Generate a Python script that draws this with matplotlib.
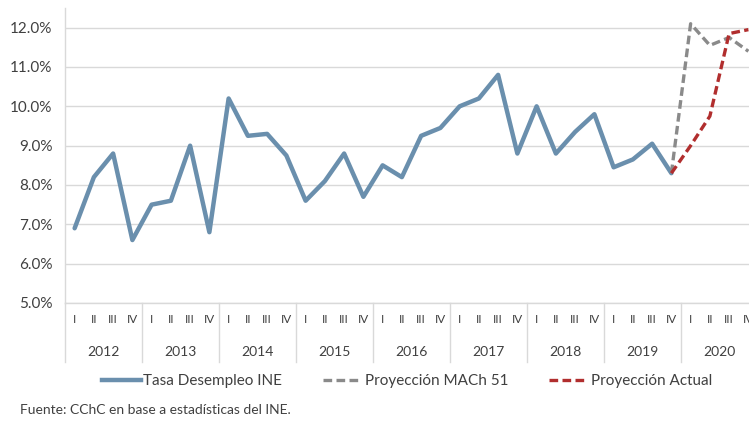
import matplotlib
matplotlib.use("Agg")
import matplotlib.pyplot as plt
from matplotlib.lines import Line2D
import matplotlib.transforms as mtransforms
import numpy as np

# ---- data ----
years = ["2012", "2013", "2014", "2015", "2016", "2017", "2018", "2019", "2020"]
quarters = ["I", "II", "III", "IV"]
tasa_ine = [6.9, 8.2, 8.8, 6.6,
            7.5, 7.6, 9.0, 6.8,
            10.2, 9.25, 9.3, 8.75,
            7.6, 8.1, 8.8, 7.7,
            8.5, 8.2, 9.25, 9.45,
            10.0, 10.2, 10.8, 8.8,
            10.0, 8.8, 9.35, 9.8,
            8.45, 8.65, 9.05, 8.3]
proy_mach51 = [8.3, 12.1, 11.55, 11.75, 11.4]
proy_actual = [8.3, 9.0, 9.75, 11.85, 11.95]
yticks = [5, 6, 7, 8, 9, 10, 11, 12]
legend_labels = ["Tasa Desempleo INE", "Proyección MACh 51", "Proyección Actual"]
source_text = "Fuente: CChC en base a estadísticas del INE."

c_blue = "#6A8FAD"
c_gray = "#8A8A8A"
c_red = "#B12E2E"
c_grid = "#D9D9D9"
c_text = "#404040"

plt.rcParams["font.family"] = ["Lato", "DejaVu Sans"]

W, H = 749, 421
fig = plt.figure(figsize=(W / 100, H / 100), dpi=100)
x0, x1, ytop, ybot = 65, 758, 8, 303
ax = fig.add_axes([x0 / W, 1 - ybot / H, (x1 - x0) / W, (ybot - ytop) / H])

n = len(years) * 4
x_all = np.arange(n)
x_ine = x_all[:len(tasa_ine)]
x_proj = x_all[len(tasa_ine) - 1:len(tasa_ine) - 1 + len(proy_mach51)]

ax.plot(x_ine, tasa_ine, color=c_blue, lw=3.2, solid_joinstyle="round",
        solid_capstyle="round", zorder=3)
ax.plot(x_proj, proy_mach51, color=c_gray, lw=2.4, dashes=(2.6, 1.3), zorder=4)
ax.plot(x_proj, proy_actual, color=c_red, lw=2.4, dashes=(2.6, 1.3), zorder=5)

ax.set_xlim(-0.5, n - 0.5)
ax.set_ylim(5, 12.5)
ax.set_yticks(yticks)
ax.set_yticklabels([f"{v:.1f}%" for v in yticks])
ax.tick_params(axis="y", length=0, pad=9, labelsize=11, labelcolor=c_text)
ax.grid(axis="y", color=c_grid, lw=1.0)
ax.set_axisbelow(True)
for s in ["top", "right"]:
    ax.spines[s].set_visible(False)
ax.spines["left"].set_color(c_grid)
ax.spines["bottom"].set_color(c_grid)
ax.spines["left"].set_linewidth(1.0)
ax.spines["bottom"].set_linewidth(1.0)

ax.set_xticks(x_all)
ax.set_xticklabels(quarters * len(years))
ax.tick_params(axis="x", length=0, pad=8, labelsize=8.5, labelcolor=c_text)

trans = mtransforms.blended_transform_factory(ax.transData, ax.transAxes)
px = 1.0 / (ybot - ytop)
for i, yr in enumerate(years):
    ax.text(i * 4 + 1.5, -49 * px, yr, transform=trans, ha="center", va="center",
            fontsize=10, color=c_text)
for k in range(len(years) + 1):
    ax.plot([k * 4 - 0.5, k * 4 - 0.5], [0, -59 * px], transform=trans,
            color=c_grid, lw=1.0, clip_on=False)

handles = [Line2D([], [], color=c_blue, lw=3.2),
           Line2D([], [], color=c_gray, lw=2.4, dashes=(2.6, 1.3)),
           Line2D([], [], color=c_red, lw=2.4, dashes=(2.6, 1.3))]
leg = fig.legend(handles, legend_labels, loc="center", ncol=3, frameon=False,
                 bbox_to_anchor=(407 / W, 1 - 381 / H), fontsize=11,
                 handlelength=2.55, handletextpad=0.15, columnspacing=2.7)
for t in leg.get_texts():
    t.set_color(c_text)

fig.text(20 / W, 1 - 410 / H, source_text, ha="left", va="center",
         fontsize=10, color=c_text)

fig.savefig("out.png", dpi=100)
